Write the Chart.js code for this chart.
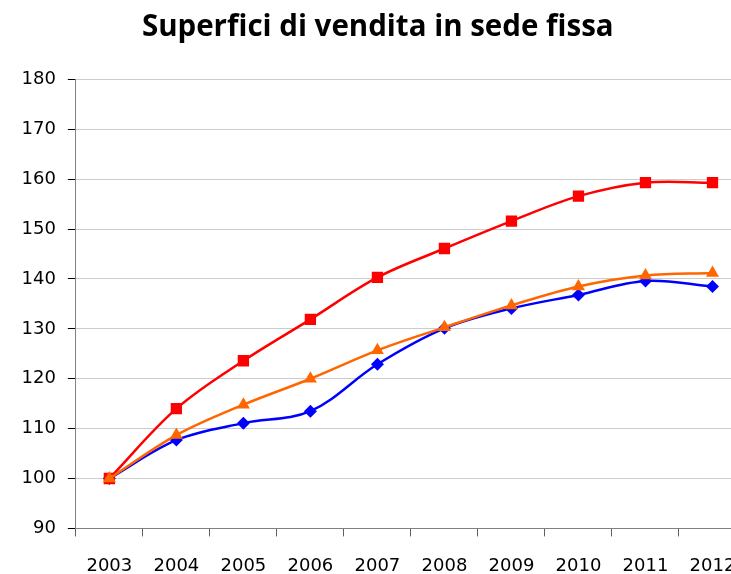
<!DOCTYPE html>
<html>
<head>
<meta charset="utf-8">
<script src="https://cdn.jsdelivr.net/npm/chart.js@4/dist/chart.umd.min.js"></script>
<style>
  html, body { margin: 0; padding: 0; background: #fff; overflow: hidden; }
  #wrap { width: 731px; height: 574px; overflow: hidden; }
</style>
</head>
<body>
<div id="wrap"><canvas id="chart" width="756" height="596"></canvas></div>
<script>
    'use strict';

    // ----------------------------
    // Data
    // ----------------------------
    var years = ['2003', '2004', '2005', '2006', '2007', '2008', '2009', '2010', '2011', '2012'];
    var redSeries = [100, 114.0, 123.6, 131.9, 140.3, 146.1, 151.6, 156.6, 159.3, 159.3];
    var orangeSeries = [100, 108.7, 114.8, 120.0, 125.7, 130.3, 134.7, 138.5, 140.7, 141.2];
    var blueSeries = [100, 107.7, 111.1, 113.5, 122.9, 130.1, 134.1, 136.8, 139.6, 138.5];
    var chartTitle = 'Superfici di vendita in sede fissa';

    function makeDataset(values, color, style, radius, order) {
        return {
            data: values,
            borderColor: color,
            backgroundColor: color,
            borderWidth: 2.5,
            pointStyle: style,
            pointRadius: radius,
            pointHoverRadius: radius,
            pointBorderWidth: 0,
            pointBackgroundColor: color,
            tension: 0.35,
            order: order
        };
    }

    var config = {
        type: 'line',
        data: {
            labels: years,
            datasets: [
                makeDataset(orangeSeries, '#FF6600', 'triangle', 7.5, 1),
                makeDataset(redSeries, '#FF0000', 'rect', 8, 2),
                makeDataset(blueSeries, '#0000FF', 'rectRot', 6.5, 3)
            ]
        },
        options: {
            responsive: false,
            animation: false,
            layout: { padding: { left: 9.5, right: 10, top: 0, bottom: 0 } },
            plugins: {
                legend: { display: false },
                tooltip: { enabled: false },
                title: {
                    display: true,
                    text: chartTitle,
                    color: '#000',
                    font: { family: 'Open Sans', weight: 'bold', size: 29.5 },
                    padding: { top: 10, bottom: 34 }
                }
            },
            scales: {
                x: {
                    offset: true,
                    border: { color: '#808080', width: 1 },
                    grid: {
                        offset: true,
                        drawOnChartArea: false,
                        drawTicks: true,
                        tickLength: 8,
                        tickColor: '#606060'
                    },
                    ticks: {
                        color: '#000',
                        padding: 19,
                        maxRotation: 0,
                        font: { family: 'DejaVu Sans', size: 18 }
                    }
                },
                y: {
                    min: 90,
                    max: 180,
                    border: { color: '#808080', width: 1 },
                    grid: {
                        color: '#cccccc',
                        tickLength: 8,
                        tickColor: '#000'
                    },
                    ticks: {
                        stepSize: 10,
                        color: '#000',
                        padding: 12,
                        font: { family: 'DejaVu Sans', size: 18 }
                    }
                }
            }
        }
    };

    var ctx = document.getElementById('chart').getContext('2d');
    new Chart(ctx, config);
</script>
</body>
</html>
